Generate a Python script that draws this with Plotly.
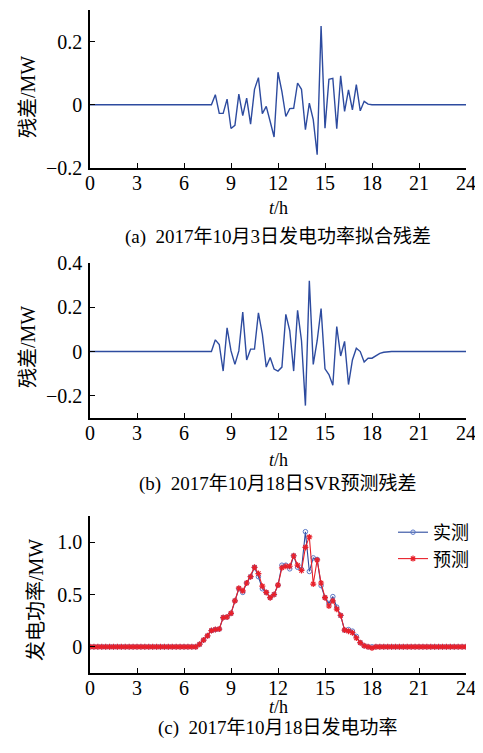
import plotly.graph_objects as go

# ---------------- data ----------------
hours = [0, 0.25, 0.5, 0.75, 1, 1.25, 1.5, 1.75, 2, 2.25, 2.5, 2.75, 3, 3.25, 3.5, 3.75,
         4, 4.25, 4.5, 4.75, 5, 5.25, 5.5, 5.75, 6, 6.25, 6.5, 6.75, 7, 7.25, 7.5, 7.75,
         8, 8.25, 8.5, 8.75, 9, 9.25, 9.5, 9.75, 10, 10.25, 10.5, 10.75, 11, 11.25, 11.5, 11.75,
         12, 12.25, 12.5, 12.75, 13, 13.25, 13.5, 13.75, 14, 14.25, 14.5, 14.75, 15, 15.25, 15.5, 15.75,
         16, 16.25, 16.5, 16.75, 17, 17.25, 17.5, 17.75, 18, 18.25, 18.5, 18.75, 19, 19.25, 19.5, 19.75,
         20, 20.25, 20.5, 20.75, 21, 21.25, 21.5, 21.75, 22, 22.25, 22.5, 22.75, 23, 23.25, 23.5, 23.75, 24]

# (a) 2017-10-03 fitting residual (MW)
resid_fit_oct3 = [0, 0, 0, 0, 0, 0, 0, 0, 0, 0, 0, 0, 0, 0, 0, 0,
                  0, 0, 0, 0, 0, 0, 0, 0, 0, 0, 0, 0, 0, 0, 0, 0,
                  0.032, -0.027, -0.027, 0.018, -0.075, -0.065, 0.034, -0.034,
                  0.021, -0.061, 0.049, 0.086, -0.028, -0.005, -0.053, -0.102,
                  0.103, 0.042, -0.037, -0.012, -0.011, 0.069, 0.049, -0.079,
                  0.005, -0.047, -0.158, 0.249, -0.074, 0.081, 0.084, -0.076,
                  0.092, -0.021, 0.047, -0.016, 0.064, -0.019, 0.011, 0.002,
                  0, 0, 0, 0, 0, 0, 0, 0, 0, 0, 0, 0, 0, 0, 0, 0,
                  0, 0, 0, 0, 0, 0, 0, 0, 0]

# (b) 2017-10-18 SVR prediction residual (MW)
resid_svr_oct18 = [0, 0, 0, 0, 0, 0, 0, 0, 0, 0, 0, 0, 0, 0, 0, 0,
                   0, 0, 0, 0, 0, 0, 0, 0, 0, 0, 0, 0, 0, 0, 0, 0,
                   0.053, 0.032, -0.088, 0.107, 0.003, -0.058, 0.003, 0.178,
                   -0.038, 0.011, 0.011, 0.175, 0.079, -0.070, -0.027, -0.079,
                   -0.088, -0.070, 0.168, 0.095, -0.088, 0.186, 0.049, -0.244,
                   0.320, -0.058, 0.049, 0.194, -0.078, -0.104, -0.152, 0.113,
                   -0.020, 0.046, -0.149, -0.038, 0.015, 0.000, -0.047, -0.030,
                   -0.030, -0.017, -0.008, -0.003,
                   0, 0, 0, 0, 0, 0, 0, 0, 0, 0, 0, 0, 0, 0, 0, 0,
                   0, 0, 0, 0, 0]

# (c) 2017-10-18 generated power (MW)
power_measured = [0, 0, 0, 0, 0, 0, 0, 0, 0, 0, 0, 0, 0, 0, 0, 0,
                  0, 0, 0, 0, 0, 0, 0, 0, 0, 0, 0, 0,
                  0.025, 0.065, 0.105, 0.155, 0.165, 0.17, 0.28, 0.285,
                  0.32, 0.44, 0.555, 0.52, 0.61, 0.67, 0.76, 0.67,
                  0.555, 0.52, 0.47, 0.50, 0.59, 0.78, 0.78, 0.745,
                  0.87, 0.76, 0.74, 1.10, 0.72, 0.85, 0.835, 0.585,
                  0.47, 0.415, 0.48, 0.38, 0.30, 0.16, 0.165, 0.15,
                  0.10, 0.04, 0.01, 0.0, 0.0,
                  0, 0, 0, 0, 0, 0, 0, 0, 0, 0, 0, 0, 0, 0, 0, 0,
                  0, 0, 0, 0, 0, 0, 0, 0]
power_predicted = [0, 0, 0, 0, 0, 0, 0, 0, 0, 0, 0, 0, 0, 0, 0, 0,
                   0, 0, 0, 0, 0, 0, 0, 0, 0, 0, 0, 0,
                   0.025, 0.065, 0.105, 0.155, 0.165, 0.17, 0.28, 0.285,
                   0.32, 0.44, 0.56, 0.535, 0.61, 0.67, 0.76, 0.70,
                   0.58, 0.52, 0.47, 0.50, 0.59, 0.755, 0.77, 0.77,
                   0.87, 0.78, 0.73, 0.95, 1.05, 0.60, 0.83, 0.61,
                   0.47, 0.39, 0.44, 0.36, 0.30, 0.16, 0.15, 0.135,
                   0.085, 0.04, 0.01, 0.0, -0.01,
                   0, 0, 0, 0, 0, 0, 0, 0, 0, 0, 0, 0, 0, 0, 0, 0,
                   0, 0, 0, 0, 0, 0, 0, 0]

x_ticks = [0, 3, 6, 9, 12, 15, 18, 21, 24]
x_tick_text = ["0", "3", "6", "9", "12", "15", "18", "21", "24"]
ya_ticks, ya_text = [-0.2, 0, 0.2], ["\u22120.2", "0", "0.2"]
yb_ticks, yb_text = [-0.2, 0, 0.2, 0.4], ["\u22120.2", "0", "0.2", "0.4"]
yc_ticks, yc_text = [0, 0.5, 1.0], ["0", "0.5", "1.0"]

captions = ["(a)  2017年10月3日发电功率拟合残差",
            "(b)  2017年10月18日SVR预测残差",
            "(c)  2017年10月18日发电功率"]
y_titles = ["残差/MW", "残差/MW", "发电功率/MW"]
legend_names = ["实测", "预测"]

# ---------------- layout helpers ----------------
# the page body has an 8 px margin, so the figure is drawn 8 px in from the
# window's top-left corner; size it so the page does not scroll.
OFF = 8
W, H = 483 - 2 * OFF, 753 - 2 * OFF
FONT = "Liberation Serif, Noto Sans CJK SC"
BLUE = "#2D4B9F"
RED = "#E8202A"


def px_x(p):
    return (p - OFF) / W


def px_y(p):
    return 1 - (p - OFF) / H


xdom = [px_x(90), px_x(466)]
ydoms = [[px_y(168), px_y(10)], [px_y(418), px_y(263)], [px_y(673), px_y(516)]]

fig = go.Figure()
fig.add_trace(go.Scatter(x=hours, y=resid_fit_oct3, mode="lines",
                         line=dict(color=BLUE, width=1.4), xaxis="x", yaxis="y",
                         showlegend=False))
fig.add_trace(go.Scatter(x=hours, y=resid_svr_oct18, mode="lines",
                         line=dict(color=BLUE, width=1.4), xaxis="x2", yaxis="y2",
                         showlegend=False))
fig.add_trace(go.Scatter(x=hours, y=power_measured, mode="lines+markers", name=legend_names[0],
                         line=dict(color=BLUE, width=1.1),
                         marker=dict(symbol="circle-open", size=4.5, color="#5B78C8",
                                     line=dict(width=1.0)),
                         xaxis="x3", yaxis="y3"))
fig.add_trace(go.Scatter(x=hours, y=power_predicted, mode="lines+markers", name=legend_names[1],
                         line=dict(color=RED, width=1.1),
                         marker=dict(symbol="asterisk-open", size=5, color=RED,
                                     line=dict(width=1.2, color=RED)),
                         xaxis="x3", yaxis="y3"))

axis_common = dict(showline=True, linecolor="black", linewidth=1.5, ticks="inside",
                   ticklen=5, tickwidth=1.2, tickcolor="black", showgrid=False,
                   zeroline=False, mirror=False, automargin=False,
                   tickfont=dict(family=FONT, size=20, color="black"))

layout = dict(width=W, height=H, margin=dict(l=0, r=0, t=0, b=0, autoexpand=False),
              template="none",
              paper_bgcolor="white", plot_bgcolor="white",
              font=dict(family=FONT, size=20, color="black"),
              legend=dict(x=px_x(474), y=px_y(514), xanchor="right", yanchor="top",
                          bgcolor="rgba(0,0,0,0)", font=dict(family=FONT, size=18),
                          itemwidth=30, tracegroupgap=0))

names_x = ["xaxis", "xaxis2", "xaxis3"]
names_y = ["yaxis", "yaxis2", "yaxis3"]
anchors_x = ["y", "y2", "y3"]
anchors_y = ["x", "x2", "x3"]
yranges = [[-0.2, 0.3], [-0.3, 0.4], [-0.25, 1.25]]
yticks = [(ya_ticks, ya_text), (yb_ticks, yb_text), (yc_ticks, yc_text)]
for i in range(3):
    layout[names_x[i]] = dict(axis_common, domain=xdom, anchor=anchors_x[i], range=[0, 24],
                              tickvals=x_ticks, ticktext=x_tick_text,
                              ticklabeloverflow="allow", ticklabelstandoff=-4)
    layout[names_y[i]] = dict(axis_common, domain=ydoms[i], anchor=anchors_y[i],
                              range=yranges[i], tickvals=yticks[i][0], ticktext=yticks[i][1],
                              ticklabelstandoff=2, ticklabeloverflow="allow")
fig.update_layout(**layout)

ann = []
xt_y = [208, 460, 707]
cap_y = [237, 484, 728]
yt_x = [28, 28, 36]
yt_y = [97, 347, 600]
for i in range(3):
    ann.append(dict(text="<i>t</i>/h", x=px_x(278), y=px_y(xt_y[i]), xref="paper", yref="paper",
                    showarrow=False, xanchor="center", yanchor="middle", borderpad=0,
                    font=dict(family=FONT, size=18, color="black")))
    ann.append(dict(text=captions[i], x=px_x(278), y=px_y(cap_y[i]), xref="paper", yref="paper",
                    showarrow=False, xanchor="center", yanchor="middle", borderpad=0,
                    font=dict(family=FONT, size=19, color="black")))
    ann.append(dict(text=y_titles[i], x=px_x(yt_x[i]), y=px_y(yt_y[i]), xref="paper", yref="paper",
                    showarrow=False, xanchor="center", yanchor="middle", textangle=-90,
                    font=dict(family=FONT, size=20, color="black")))
fig.update_layout(annotations=ann)

fig.write_html("out.html")
